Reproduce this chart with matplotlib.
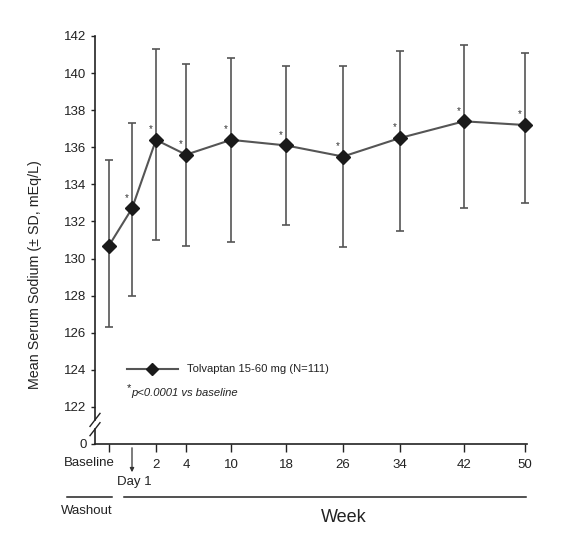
import matplotlib
matplotlib.use('Agg')
import matplotlib.pyplot as plt
from matplotlib.lines import Line2D

plt.rcParams['font.family'] = ['Liberation Sans', 'DejaVu Sans']

# ---- data ----
timepoints = ['Baseline', 'Day 1', '2', '4', '10', '18', '26', '34', '42', '50']
mean_na = [130.7, 132.7, 136.4, 135.6, 136.4, 136.1, 135.5, 136.5, 137.4, 137.2]
upper_sd = [135.3, 137.3, 141.3, 140.5, 140.8, 140.4, 140.4, 141.2, 141.5, 141.1]
lower_sd = [126.3, 128.0, 131.0, 130.7, 130.9, 131.8, 130.6, 131.5, 132.7, 133.0]
significant = [False, True, True, True, True, True, True, True, True, True]
y_tick_values = [122, 124, 126, 128, 130, 132, 134, 136, 138, 140, 142]
series_label = 'Tolvaptan 15-60 mg (N=111)'
footnote = 'p<0.0001 vs baseline'

# ---- layout (horizontal slot positions of the time points, uneven as in the source) ----
W, H = 570, 537
x_slots = [109, 132, 156, 186, 231, 286, 343, 400, 464, 525]
x_min, x_max = 95, 526.5
y_min, y_max = 120, 142

fig = plt.figure(figsize=(W / 100, H / 100), dpi=100)
ax = fig.add_axes([x_min / W, (H - 444) / H, (x_max - x_min) / W, (444 - 36) / H])
ax.set_xlim(x_min, x_max)
ax.set_ylim(y_min, y_max)

def fx(px):
    return px / W

def fy(py):
    return (H - py) / H

yerr = [[m - lo for m, lo in zip(mean_na, lower_sd)],
        [hi - m for m, hi in zip(mean_na, upper_sd)]]
ax.errorbar(x_slots, mean_na, yerr=yerr, fmt='none', ecolor='#555555',
            elinewidth=1.2, capsize=3, capthick=1.2, zorder=2, clip_on=False)
ax.plot(x_slots, mean_na, color='#555555', lw=1.5, zorder=3, clip_on=False)
ax.plot(x_slots, mean_na, ls='none', marker='D', ms=7, color='#1a1a1a',
        zorder=4, clip_on=False)

for x, m, s in zip(x_slots, mean_na, significant):
    if s:
        ax.annotate('*', (x, m), xytext=(-4, 4), textcoords='offset points',
                    ha='center', va='bottom', fontsize=7, color='#333333')

# spines
for s in ['top', 'right', 'left']:
    ax.spines[s].set_visible(False)
ax.spines['bottom'].set_linewidth(1.2)
ax.spines['bottom'].set_color('#222222')

# y axis drawn in two pieces with a break
brk_hi, brk_lo = 121.3, 120.8
ax.plot([x_min, x_min], [brk_hi, y_max], color='#222222', lw=1.2, clip_on=False)
ax.plot([x_min, x_min], [y_min, brk_lo], color='#222222', lw=1.2, clip_on=False)
for yb in (brk_hi, brk_lo):
    ax.plot([x_min - 5, x_min + 5], [yb - 0.35, yb + 0.35], color='#222222',
            lw=1.0, clip_on=False)

ax.set_yticks([y_min] + y_tick_values)
ax.set_yticklabels(['0'] + [str(v) for v in y_tick_values])
ax.tick_params(axis='y', direction='out', length=3, width=1, color='#222222',
               labelsize=9.5, labelcolor='#222222', pad=3)

tick_idx = [i for i, t in enumerate(timepoints) if t not in ('Day 1', 'Baseline')]
ax.set_xticks([x_slots[i] for i in tick_idx] + [x_slots[0]])
ax.set_xticklabels([timepoints[i] for i in tick_idx] + [''])
ax.tick_params(axis='x', direction='out', length=6, width=1, color='#222222',
               labelsize=9.5, labelcolor='#222222', pad=5)

fig.text(fx(x_slots[0] + 6), fy(463), timepoints[0], ha='right', va='center',
         fontsize=9.5, color='#222222')

# Day 1 arrow
ax.annotate('', xy=(fx(x_slots[1]), fy(475)), xycoords='figure fraction',
            xytext=(fx(x_slots[1]), fy(445)), textcoords='figure fraction',
            arrowprops=dict(arrowstyle='-|>', color='#333333', lw=0.9,
                            mutation_scale=6))
fig.text(fx(134), fy(482), timepoints[1], ha='center', va='center',
         fontsize=9.5, color='#222222')

# period lines
fig.add_artist(Line2D([fx(67), fx(112)], [fy(497), fy(497)], color='#222222', lw=1.1))
fig.add_artist(Line2D([fx(124), fx(526)], [fy(497), fy(497)], color='#222222', lw=1.1))
fig.text(fx(87), fy(511), 'Washout', ha='center', va='center', fontsize=9.5,
         color='#222222')
fig.text(fx(344), fy(517), 'Week', ha='center', va='center', fontsize=13,
         color='#222222')

# y label
fig.text(fx(35), fy(275), 'Mean Serum Sodium (± SD, mEq/L)', rotation=90,
         ha='center', va='center', fontsize=10.3, color='#222222')

# legend
fig.add_artist(Line2D([fx(127), fx(178)], [fy(369), fy(369)], color='#555555', lw=1.5))
fig.add_artist(Line2D([fx(152)], [fy(369)], ls='none', marker='D', ms=6,
                      color='#1a1a1a'))
fig.text(fx(187), fy(369), series_label, ha='left', va='center', fontsize=8.1,
         color='#222222')
fig.text(fx(127), fy(388), '*', ha='left', va='center', fontsize=8, color='#222222')
fig.text(fx(131), fy(393), footnote, ha='left', va='center', fontsize=8.1,
         style='italic', color='#222222')

fig.savefig('out.png', dpi=100, facecolor='white')
